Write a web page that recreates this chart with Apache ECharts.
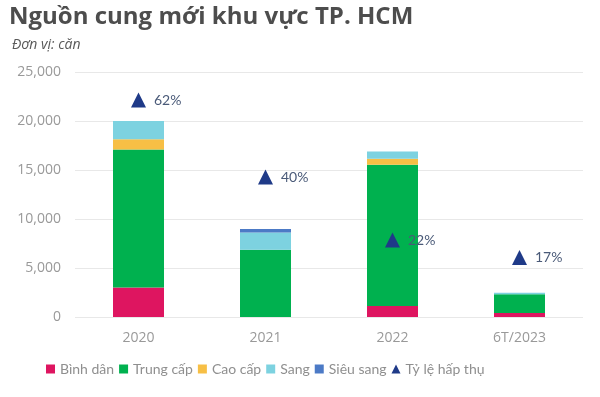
<!DOCTYPE html>
<html>
<head>
<meta charset="utf-8">
<script src="https://cdn.jsdelivr.net/npm/echarts@6/dist/echarts.min.js"></script>
<style>
  html, body { margin: 0; padding: 0; background: #fff; }
  #chart { width: 600px; height: 397px; }
</style>
</head>
<body>
<div id="chart"></div>
<script>
// du lieu doc tu hinh
var categories = ["2020", "2021", "2022", "6T/2023"];
var binhDan = [3000, 0, 1130, 420];
var trungCap = [14100, 6860, 14400, 1900];
var caoCap = [1050, 0, 620, 0];
var sang = [1850, 1770, 750, 150];
var sieuSang = [0, 350, 0, 0];
var tyLeHapThu = [62, 40, 22, 17];
var yTicks = [0, 5000, 10000, 15000, 20000, 25000];

var font = "Lato, 'Noto Sans', sans-serif";
var fontWide = "'Open Sans', 'Noto Sans', sans-serif";
var chart = echarts.init(document.getElementById("chart"));

function barSeries(name, data, color) {
  return {
    name: name,
    type: "bar",
    stack: "cung",
    barWidth: 51,
    yAxisIndex: 0,
    itemStyle: { color: color },
    data: data
  };
}

var option = {
  animation: false,
  title: [{
    text: "Nguồn cung mới khu vực TP. HCM",
    left: 4, top: 0,
    textStyle: { fontFamily: fontWide, fontSize: 24, fontWeight: "bold", color: "#4d4d4d" }
  }, {
    text: "Đơn vị: căn",
    left: 7, top: 33,
    textStyle: { fontFamily: fontWide, fontSize: 14, fontStyle: "italic", fontWeight: "normal", color: "#595959" }
  }],
  grid: { left: 75, right: 17, top: 72, bottom: 80 },
  legend: {
    bottom: 16, left: 41,
    itemWidth: 9, itemHeight: 9, itemGap: 5,
    textStyle: { fontFamily: font, fontSize: 14, color: "#8f8f8f" },
    data: [
      { name: "Bình dân", icon: "rect" },
      { name: "Trung cấp", icon: "rect" },
      { name: "Cao cấp", icon: "rect" },
      { name: "Sang", icon: "rect" },
      { name: "Siêu sang", icon: "rect" },
      { name: "Tỷ lệ hấp thụ", icon: "triangle" }
    ]
  },
  xAxis: {
    type: "category",
    data: categories,
    axisLine: { show: false },
    axisTick: { show: false },
    axisLabel: { fontFamily: fontWide, fontSize: 14, color: "#999999", margin: 14 }
  },
  yAxis: [{
    type: "value",
    min: yTicks[0], max: yTicks[yTicks.length - 1], interval: 5000,
    axisLine: { show: false },
    axisTick: { show: false },
    splitLine: { lineStyle: { color: "#e8e8e8" } },
    axisLabel: {
      fontFamily: fontWide, fontSize: 14, color: "#999999", margin: 14,
      formatter: function (v) { return v.toLocaleString("en-US"); }
    }
  }, {
    type: "value", min: 0, max: 70, show: false
  }],
  series: [
    barSeries("Bình dân", binhDan, "#de1560"),
    barSeries("Trung cấp", trungCap, "#00b14f"),
    barSeries("Cao cấp", caoCap, "#f7bf45"),
    barSeries("Sang", sang, "#7dd2e0"),
    barSeries("Siêu sang", sieuSang, "#4c7ac6"),
    {
      name: "Tỷ lệ hấp thụ",
      type: "scatter",
      yAxisIndex: 1,
      symbol: "triangle",
      symbolSize: 15,
      itemStyle: { color: "#1f3a88", opacity: 1 },
      label: {
        show: true, position: "right", distance: 8,
        fontFamily: font, fontSize: 14, color: "#4a5a78",
        formatter: function (p) { return p.value + "%"; }
      },
      data: tyLeHapThu
    }
  ]
};

chart.setOption(option);
</script>
</body>
</html>
